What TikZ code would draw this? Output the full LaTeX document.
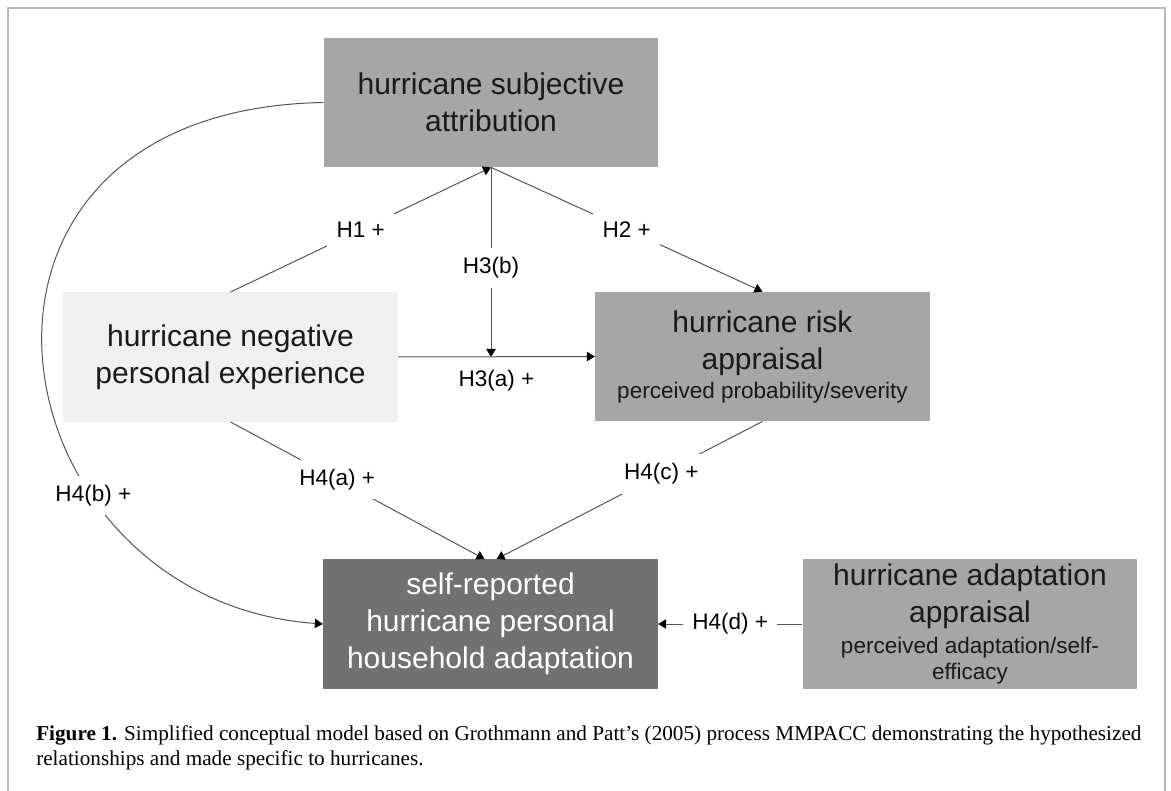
\documentclass[tikz,border=0pt]{standalone}
\usepackage{fontspec}
\setmainfont{Liberation Sans}
\newfontfamily\capfont{Liberation Serif}
\usetikzlibrary{arrows.meta}
\definecolor{boxgray}{RGB}{166,166,166}
\definecolor{lightbox}{RGB}{240,240,240}
\definecolor{darkbox}{RGB}{115,112,112}
\definecolor{linegray}{RGB}{85,85,85}
\definecolor{framegray}{RGB}{185,185,185}
\newcommand{\bigtext}{\fontsize{22.5}{27.75}\selectfont}
\newcommand{\smalltext}{\fontsize{16.9}{19.5}\selectfont}
\tikzset{box/.style = {fill=boxgray, text=black!90, minimum width=251pt, minimum height=97pt, inner sep=0, align=center, font=\bigtext}}
\tikzset{hyp/.style = {fill=white, inner sep=7pt, font=\smalltext}}
\tikzset{link/.style = {draw=linegray, line width=0.75pt, -{Triangle[length=6pt, width=7pt, color=black]}}}

\begin{document}
\begin{tikzpicture}[x=0.75pt, y=-0.75pt]
    \useasboundingbox (0, 0) rectangle (1171, 791);
    \draw [framegray, line width=1.2pt] (8, 791) -- (8, 8) -- (1165, 8) -- (1165, 791);

    \node [box] (attr) at (491, 102.5) {hurricane subjective\\attribution};
    \node [box, fill=lightbox] (exper) at (230.5, 357) {hurricane negative\\personal experience};
    \node [box] (risk) at (762.5, 356.5) {hurricane risk\\appraisal\\[-6pt]{\smalltext perceived probability/severity}};
    \node [box, fill=darkbox, text=white] (adapt) at (490.5, 624) {self-reported\\hurricane personal\\household adaptation};
    \node [box] (appr) at (970, 624) {hurricane adaptation\\appraisal\\[-5pt]{\smalltext perceived adaptation/self-}\\[-8pt]{\smalltext efficacy}};
    \coordinate (cross) at (attr.south |- exper.east);

    \draw [link] (exper.north) -- node [hyp] {H1 +} (attr.south);
    \draw [link] (attr.south) -- node [hyp] {H2 +} (risk.north);
    \draw [link] (attr.south) -- node [hyp, pos=0.53] {H3(b)} (cross);
    \draw [link] (exper.east) -- node [hyp, below=3pt] {H3(a) +} (risk.west);
    \draw [link] (exper.south) -- node [hyp, pos=0.42] {H4(a) +} ([xshift=-4.5pt]adapt.north);
    \draw [link] (risk.south) -- node [hyp, pos=0.38] {H4(c) +} ([xshift=4.5pt]adapt.north);
    \draw [link] (attr.west) .. controls (-90, 110) and (-10, 600) .. node [hyp, pos=0.69] {H4(b) +} (adapt.west);
    \draw [link] (appr.west) -- node [hyp] {H4(d) +} (adapt.east);

    \node [anchor=base west, align=left, inner sep=0, font=\capfont\fontsize{15.9}{18.75}\selectfont] (caption) at (36, 765)
      {\textbf{Figure 1.} Simplified conceptual model based on Grothmann and Patt’s (2005) process MMPACC demonstrating the hypothesized\\relationships and made specific to hurricanes.};
\end{tikzpicture}
\end{document}
